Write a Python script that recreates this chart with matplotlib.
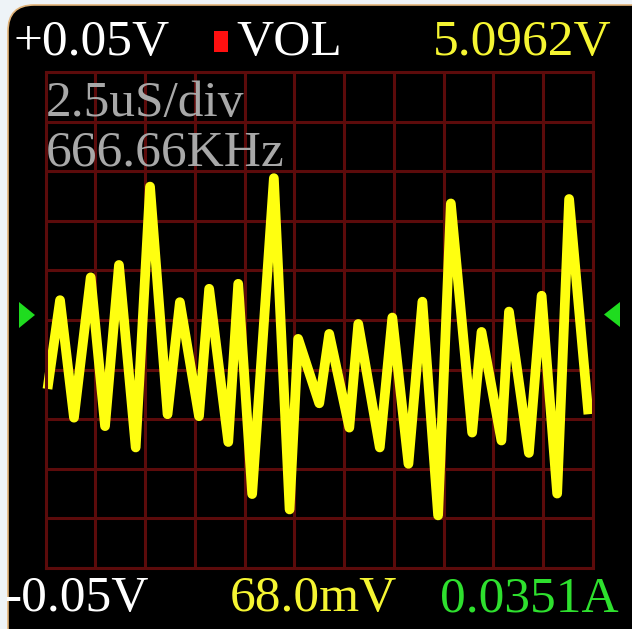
import matplotlib
matplotlib.use("Agg")
import matplotlib.pyplot as plt
import numpy as np
from matplotlib.patches import FancyBboxPatch, Polygon, Rectangle

# Captured trace: time (µs) and voltage (mV)
time_us = [0.10, 0.73, 1.43, 2.27, 2.99, 3.69, 4.53, 5.25, 6.13, 6.75,
           7.71, 8.22, 9.18, 9.68, 10.38, 11.47, 12.26, 12.69, 13.75, 14.25,
           15.26, 15.71, 16.79, 17.42, 18.23, 18.93, 19.72, 20.36, 21.43, 21.90,
           22.90, 23.28, 24.28, 24.92, 25.70, 26.30, 27.27]
volt_mv = [-13.9, 4.0, -19.7, 8.6, -21.4, 11.1, -25.7, 26.9, -19.0, 3.6,
           -19.4, 6.3, -24.6, 7.3, -35.1, 28.6, -38.2, -3.8, -16.8, -2.8,
           -21.7, -0.8, -25.7, 0.5, -29.0, 3.7, -39.4, 23.5, -22.7, -2.4,
           -24.3, 1.7, -26.8, 4.9, -35.0, 24.4, -19.0]

# Screen scale
time_per_div = 2.5      # µs/div
h_divs = 11
volt_per_div = 10.0     # mV/div
v_divs = 10

# Readouts
range_top = "+0.05V"
range_bottom = "-0.05V"
channel = "VOL"
vin = "5.0962V"
timebase = "2.5uS/div"
freq = "666.66KHz"
vpp = "68.0mV"
current = "0.0351A"

W, H = 632, 629
fig = plt.figure(figsize=(W / 100, H / 100), dpi=100)
fig.patch.set_facecolor("#eef3f7")

# Screen bezel (pixel coordinates, y down)
bg = fig.add_axes([0, 0, 1, 1], zorder=-1)
bg.set_xlim(0, W)
bg.set_ylim(H, 0)
bg.axis("off")
bg.add_patch(FancyBboxPatch((8, 5), W + 40, H + 40,
                            boxstyle="round,pad=0,rounding_size=26",
                            facecolor="black", edgecolor="#e2b47a", linewidth=1.2))

# Scope graticule + trace
left_px, right_px, top_px, bot_px = 45.5, 593, 72, 568
ax = fig.add_axes([left_px / W, 1 - bot_px / H,
                   (right_px - left_px) / W, (bot_px - top_px) / H], zorder=1)
ax.set_facecolor("black")
ax.set_xlim(0, time_per_div * h_divs)
ax.set_ylim(-volt_per_div * v_divs / 2, volt_per_div * v_divs / 2)
ax.set_xticks(np.arange(0, h_divs + 1) * time_per_div)
ax.set_yticks(np.arange(-v_divs / 2, v_divs / 2 + 1) * volt_per_div)
grid_col = "#5c0b0b"
ax.grid(True, color=grid_col, linewidth=2.2)
ax.tick_params(length=0, labelbottom=False, labelleft=False)
for s in ax.spines.values():
    s.set_color(grid_col)
    s.set_linewidth(2.2)
ax.set_axisbelow(True)
ax.plot(time_us, volt_mv, color="#ffff10", linewidth=7,
        solid_joinstyle="round", solid_capstyle="butt", clip_on=False)

# Overlay: readouts and markers
ov = fig.add_axes([0, 0, 1, 1], zorder=5)
ov.set_xlim(0, W)
ov.set_ylim(H, 0)
ov.axis("off")
ov.patch.set_alpha(0)

font = dict(family="Liberation Serif", fontsize=37)
ov.text(13, 55, range_top, color="white", ha="left", va="baseline", **font)
ov.add_patch(Rectangle((214, 31), 14, 21, facecolor="#ff1010", edgecolor="none"))
ov.text(236, 55, channel, color="white", ha="left", va="baseline", **font)
ov.text(612, 55, vin, color="#f5f532", ha="right", va="baseline", **font)
ov.text(46, 116, timebase, color="#a8a8a8", ha="left", va="baseline", **font)
ov.text(46, 166, freq, color="#a8a8a8", ha="left", va="baseline", **font)
ov.text(4, 611, range_bottom, color="white", ha="left", va="baseline", **font)
ov.text(230, 611, vpp, color="#f5f532", ha="left", va="baseline", **font)
ov.text(619, 611, current, color="#2ee02e", ha="right", va="baseline", **font)

# Trigger level markers
ov.add_patch(Polygon([(19, 302), (19, 328), (35, 315)], closed=True,
                     facecolor="#1fdc1f", edgecolor="none"))
ov.add_patch(Polygon([(620, 302), (620, 327), (604, 314.5)], closed=True,
                     facecolor="#1fdc1f", edgecolor="none"))

fig.savefig("out.png", dpi=100, facecolor=fig.get_facecolor())
